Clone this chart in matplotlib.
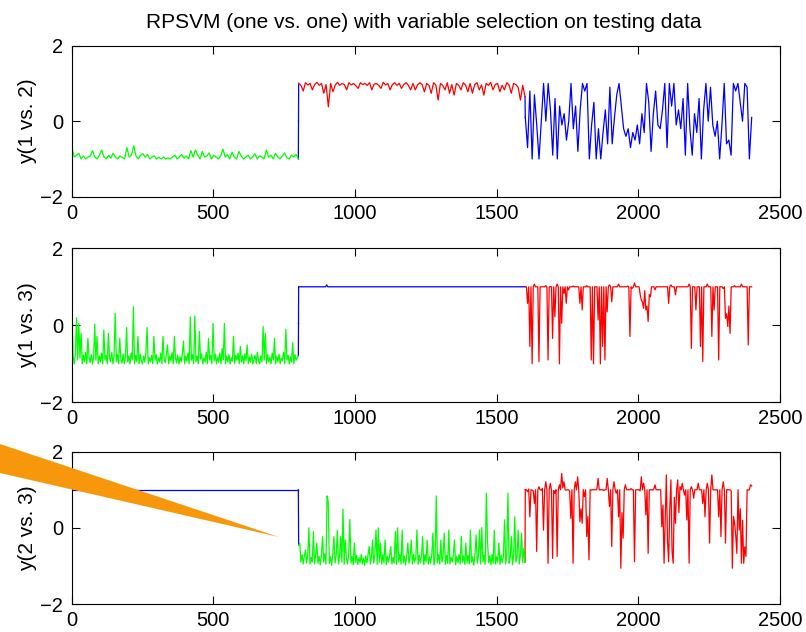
import numpy as np
import matplotlib
matplotlib.use("Agg")
import matplotlib.pyplot as plt
from matplotlib.patches import Polygon

# ---------------- data ----------------
title = "RPSVM (one vs. one) with variable selection on testing data"
ylabels = ["y(1 vs. 2)", "y(1 vs. 3)", "y(2 vs. 3)"]
xticks = [0, 500, 1000, 1500, 2000, 2500]
yticks = [-2, 0, 2]

# sample ranges of the three classes
seg_ranges = [(1, 800), (801, 1600), (1601, 2400)]

# panel 1 : y(1 vs. 2)   (~1 value per 8 samples)
p1_green = [-0.72, -0.95, -0.9, -0.85, -1.0, -0.92, -1.0, -0.95, -0.92, -0.78,
            -0.95, -1.0, -0.9, -0.76, -0.95, -1.0, -0.9, -0.98, -0.85, -0.95,
            -1.0, -0.92, -0.96, -1.0, -0.7, -0.95, -0.9, -0.65, -0.92, -1.0,
            -0.9, -0.86, -0.95, -0.88, -1.0, -0.95, -0.92, -1.0, -0.96, -1.0,
            -0.95, -1.0, -0.97, -1.0, -0.95, -0.9, -1.0, -0.95, -0.88, -0.98,
            -0.92, -1.0, -0.78, -0.95, -0.76, -0.9, -1.0, -0.8, -0.95, -0.92,
            -0.84, -1.0, -0.9, -0.95, -1.0, -0.92, -0.74, -0.95, -0.88, -1.0,
            -0.82, -0.95, -1.0, -0.8, -0.92, -1.0, -0.95, -0.9, -1.0, -0.95,
            -0.86, -1.0, -0.92, -0.95, -1.0, -0.76, -0.95, -0.9, -1.0, -0.85,
            -0.95, -1.0, -0.92, -0.84, -0.97, -1.0, -0.9, -0.95, -0.88, -1.0]
p1_red = [1.0, 0.95, 0.8, 1.02, 0.96, 1.0, 0.83, 0.97, 1.03, 0.95,
          1.0, 0.74, 0.97, 0.38, 1.0, 0.78, 0.96, 1.03, 0.95, 1.0,
          0.97, 0.83, 1.02, 0.96, 1.0, 0.94, 0.87, 1.02, 0.97, 1.0,
          0.95, 1.02, 0.83, 0.98, 1.0, 0.95, 0.87, 1.03, 0.96, 1.0,
          0.83, 0.97, 1.02, 0.95, 1.0, 0.87, 0.97, 1.02, 0.95, 0.83,
          1.0, 0.83, 0.96, 1.02, 0.97, 0.78, 1.0, 0.95, 0.74, 1.02,
          0.96, 0.56, 1.0, 0.95, 0.83, 1.02, 0.74, 0.97, 0.69, 1.0,
          0.95, 0.83, 1.02, 0.96, 0.78, 1.0, 0.74, 0.97, 1.02, 0.83,
          0.96, 0.69, 1.0, 0.95, 1.03, 0.83, 0.97, 1.0, 0.78, 0.95,
          0.83, 1.02, 0.96, 0.74, 1.0, 0.97, 0.9, 0.56, 0.95, 0.65]
p1_blue = [0.1, -0.7, 0.8, -1.0, 0.7, -0.1, -1.0, 0.0, 1.0, 0.0,
           1.0, 0.3, -0.9, 0.6, -1.0, 0.4, -0.1, 0.2, -0.5, 0.0,
           1.0, -0.2, 0.4, -0.8, 0.3, 1.0, 0.8, 1.0, -1.0, -0.1,
           0.5, -1.0, -0.2, -1.0, -0.3, 0.3, -0.6, 0.9, -0.6, 0.1,
           0.7, 1.0, 0.4, -0.2, -0.4, -0.2, -0.7, -0.3, -0.5, -0.1,
           -0.6, 0.2, -0.3, 1.0, 0.5, -0.8, 0.2, 0.8, -0.1, -0.2,
           0.3, 1.0, -0.7, 1.0, 0.4, 1.0, -0.1, 0.3, -0.2, 0.6,
           -0.9, 1.0, -0.2, -0.9, 0.2, -0.3, 0.6, -1.0, 0.3, 1.0,
           0.0, 0.9, -0.1, -0.4, 0.0, -1.0, -0.1, 1.0, -0.6, -0.5,
           -0.9, 1.0, 0.8, 1.0, 0.5, 0.0, 1.0, 0.9, -1.0, 0.1]

# panel 2 : y(1 vs. 3)   (~1 value per 4 samples)
p2_green = [0.35, -0.8, -1.0, -0.75, 0.2, -0.9, 0.05, -0.85, -0.21, -1.0,
            -0.78, -0.95, -0.7, -1.0, -0.34, -0.82, -0.97, -0.76, -1.0, -0.85,
            0.03, -0.9, -0.29, -1.0, -0.8, -0.95, -0.72, -1.0, -0.12, -0.9,
            -0.78, -1.0, -0.21, -0.85, -0.95, -0.7, -1.0, -0.8, 0.31, -0.95,
            -0.76, -1.0, -0.34, -0.88, -0.98, -0.74, -1.0, -0.83, -0.06, -0.95,
            -0.8, -1.0, -0.72, -0.9, 0.48, -1.0, -0.78, -0.95, -0.29, -1.0,
            -0.75, -0.92, -1.0, -0.8, -0.96, -0.7, -0.06, -1.0, -0.84, -0.95,
            -0.78, -1.0, -0.29, -0.9, -0.76, -1.0, -0.85, -0.95, -0.72, -1.0,
            -0.29, -0.88, -0.97, -0.75, -0.51, -1.0, -0.8, -0.93, -0.7, -1.0,
            -0.29, -0.85, -0.98, -0.77, -1.0, -0.82, -0.95, -0.74, -0.41, -1.0,
            -0.8, -0.93, -0.72, -1.0, 0.22, -0.9, -0.76, -1.0, 0.24, -0.95,
            -0.8, -1.0, -0.16, -0.88, -0.74, -1.0, -0.85, -0.95, -0.7, -1.0,
            -0.34, -0.9, -0.78, -1.0, 0.05, -0.92, -0.75, -1.0, -0.83, -0.96,
            -0.72, -1.0, -0.6, -0.9, 0.05, -1.0, -0.8, -0.95, -0.76, -1.0,
            -0.85, -0.93, -0.29, -1.0, -0.78, -0.9, -0.72, -1.0, -0.55, -0.95,
            -0.8, -1.0, -0.74, -0.92, -0.51, -1.0, -0.82, -0.96, -0.75, -1.0,
            -0.88, -0.78, -1.0, -0.7, -0.93, -1.0, -0.8, -0.95, -0.03, -0.9,
            -0.21, -1.0, -0.76, -0.95, -0.84, -1.0, -0.72, -0.9, -0.34, -1.0,
            -0.8, -0.95, -0.75, -1.0, -0.86, -0.92, -0.7, -1.0, -0.1, -0.9,
            -0.78, -1.0, -0.82, -0.95, -0.45, -1.0, -0.76, -0.9, -0.85, -0.8]
p2_blue_x = [801, 896, 900, 904, 1600]
p2_blue_y = [1.0, 1.0, 1.05, 1.0, 1.0]
p2_red = [1.0, 1.0, 0.57, 1.0, -0.55, 1.0, -1.0, 1.0, 1.07, 1.0,
          1.0, 1.0, -0.94, 1.0, 1.0, 1.0, 1.0, 1.0, 1.03, 1.0,
          -0.9, 1.0, 1.0, 1.0, -0.34, 1.0, 0.22, 1.0, 1.07, 1.0,
          -1.0, 1.0, 0.05, 1.0, 0.83, 1.0, 0.57, 1.0, 0.92, 1.0,
          1.0, 1.0, 1.02, 1.0, 1.0, 1.0, 1.0, 1.0, 0.57, 1.0,
          0.4, 1.0, 1.0, 1.0, 1.03, 1.0, 1.0, 1.0, -0.9, 1.0,
          -1.0, 1.0, 1.0, 1.0, 0.14, 1.0, -1.0, 1.0, -0.55, 1.0,
          -0.9, 1.0, 0.35, 1.0, 1.05, 1.0, 0.61, 1.0, 1.0, 1.0,
          1.0, 1.0, 1.07, 1.0, 1.0, 1.0, 1.0, 1.0, 1.0, 1.0,
          1.02, 1.0, -0.29, 1.0, 0.96, 1.0, 1.1, 1.0, 1.0, 1.0,
          1.0, 0.8, 0.66, 0.6, 0.44, 0.9, 0.4, 0.5, 0.1, 0.8,
          0.74, 1.0, 1.0, 1.0, 0.92, 1.0, 1.0, 1.0, 1.0, 1.0,
          1.0, 1.0, 1.0, 1.0, 1.0, 1.0, 0.57, 1.0, 1.05, 1.0,
          1.0, 1.0, 0.79, 1.0, 1.0, 1.0, 1.0, 1.0, 1.0, 1.0,
          1.0, 1.0, 1.0, 1.0, 1.07, 1.0, -0.6, 1.0, 1.0, 1.0,
          0.4, 1.0, 1.0, 1.0, -0.55, 1.0, -0.94, 1.0, 1.0, 1.0,
          1.07, 1.0, 1.0, 1.0, -0.29, 1.0, 0.4, 1.0, 1.0, 1.0,
          -0.9, 1.0, 1.0, 1.0, 0.95, 1.0, 0.18, 0.3, -0.03, 0.5,
          -0.21, 1.0, 1.0, 1.0, 1.03, 1.0, 1.0, 1.0, 1.0, 1.0,
          1.07, 1.0, 1.0, 1.0, 1.0, 1.0, -0.51, 1.0, 1.0, 1.0]

# panel 3 : y(2 vs. 3)   (~1 value per 4 samples)
p3_blue_x = [1, 800]
p3_blue_y = [1.0, 1.0]
p3_green = [-0.45, -0.4, -0.9, -0.7, -0.95, -0.75, -0.58, -0.92, -0.72, 0.0,
            -0.95, -0.78, -0.9, -0.1, -0.95, -0.7, -0.4, -0.93, -0.75, -0.97,
            -0.72, -0.23, -0.9, -0.68, -0.95, 0.84, 0.69, -0.93, -0.76, -0.98,
            -0.7, -0.23, -0.92, -0.74, -0.06, -0.95, -0.72, -0.23, -0.9, 0.49,
            -0.96, -0.32, -0.8, -0.95, -0.7, 0.22, -0.93, -0.75, -0.97, -0.4,
            -0.9, -0.72, -0.96, -0.78, -0.92, -0.7, -0.95, -0.8, -0.98, -0.74,
            -0.92, -0.7, -0.49, -0.95, -0.76, -0.32, -0.93, -0.72, -0.06, -0.96,
            0.0, -0.9, -0.4, -0.95, -0.7, -0.92, -0.32, -0.97, -0.75, -0.9,
            -0.72, -0.49, -0.95, -0.78, -0.93, -0.1, -0.96, 0.0, -0.9, -0.7,
            -0.95, -0.06, -0.92, -0.74, -0.98, -0.72, -0.4, -0.93, -0.76, -0.32,
            -0.95, -0.7, -0.9, -0.78, -0.06, -0.96, -0.72, -0.92, -0.75, -0.23,
            -0.97, -0.7, -0.9, -0.32, -0.95, -0.76, -0.93, -0.72, -0.14, -0.98,
            -0.75, 0.84, -0.92, -0.7, -0.95, -0.32, -0.9, -0.74, -0.14, -0.96,
            -0.72, -0.93, -0.06, -0.95, -0.78, -0.9, -0.7, -0.32, -0.97, -0.75,
            -0.92, -0.7, -0.95, -0.23, -0.9, -0.74, -0.96, -0.4, -0.93, -0.72,
            -0.95, -0.06, -0.9, -0.76, -0.98, -0.7, -0.19, -0.93, -0.75, -0.06,
            -0.95, 0.01, -0.9, -0.72, -0.96, 0.91, -0.32, -0.92, -0.74, -0.97,
            -0.7, -0.93, -0.06, -0.95, -0.76, -0.9, -0.4, -0.96, -0.72, -0.92,
            -0.75, 0.21, -0.95, -0.7, 0.91, -0.93, -0.78, -0.23, -0.97, -0.72,
            0.29, -0.9, -0.75, -0.06, -0.95, -0.7, -0.14, -0.92, -0.54, -0.9]
p3_red = [1.0, 1.0, 0.95, 1.02, 0.29, 1.0, 0.99, 0.97, 0.64, 1.0,
          -0.62, 1.0, 1.08, 1.0, 0.99, 1.03, -0.06, 1.0, 1.21, 1.0,
          -0.93, 1.0, 1.17, 1.0, -0.8, 0.98, 0.91, 1.0, -0.75, 1.0,
          1.13, 1.0, 1.43, 1.05, 1.21, 1.0, 0.99, 1.0, 1.0, 0.97,
          0.25, 1.0, -0.93, 1.0, 1.21, 1.0, 1.34, 1.0, 0.16, 0.5,
          0.12, 1.0, 0.82, 1.0, -0.23, 0.3, -0.84, 1.0, 0.99, 1.0,
          1.0, 1.0, 1.0, 1.02, 1.3, 1.0, 1.0, 1.0, 1.0, 0.98,
          1.0, 1.0, 1.3, 1.0, 0.56, 1.0, -0.49, 1.0, 1.21, 1.0,
          0.91, 1.0, 0.29, 1.0, -1.06, 0.4, -0.27, 1.0, 1.13, 1.0,
          1.0, 1.0, 1.0, 1.03, 1.0, 1.0, -0.89, 1.0, 1.0, 1.0,
          1.0, 0.97, 1.34, 1.0, 1.17, 1.0, 0.34, 1.0, -0.67, 1.0,
          1.0, 1.0, 0.99, 1.02, 1.13, 1.0, 1.0, 1.0, 1.0, 1.0,
          0.03, 0.6, -0.93, 0.2, 1.39, -0.32, -0.89, 0.5, 1.26, -0.6,
          -0.93, 0.8, 0.12, 1.0, 1.26, 0.4, 1.08, 1.0, 1.17, 1.0,
          0.86, 1.0, 0.21, 1.0, -0.93, 1.0, 1.08, 1.0, 0.78, 1.0,
          1.0, 1.0, 1.17, 1.0, 1.0, 1.0, 0.64, 1.0, 0.29, 1.0,
          1.17, 1.0, -0.4, 1.0, 1.39, 1.0, 1.0, 1.0, 0.99, 1.0,
          0.29, 1.0, -0.23, 1.0, 1.21, 1.0, -0.4, 1.0, 1.0, 1.0,
          1.0, 0.97, -1.06, 0.3, 0.12, -0.2, -0.67, 1.0, -0.06, 0.5,
          -0.93, 0.2, -0.93, -0.5, -0.75, 1.0, 0.99, 1.0, 1.13, 1.1]

GREEN, RED, BLUE = "#00FF00", "#FF0000", "#0000FF"
ORANGE = "#F7980C"

plt.rcParams['font.family'] = ['Liberation Sans', 'DejaVu Sans']

W, H = 806, 632
fig = plt.figure(figsize=(W / 100, H / 100), dpi=100)

# axes boxes in pixels: (top, bottom)
boxes = [(45.7, 196.7), (248.3, 402.3), (451.7, 604.0)]
x_left, x_right = 71.7, 780.0

def seg_x(k, vals):
    a, b = seg_ranges[k]
    return np.linspace(a, b, len(vals))

LW = 0.9

def draw_seg(ax, x, y, color):
    ax.plot(x, y, color=color, lw=LW)

def connector(ax, x0, y0, x1, y1, color):
    ax.plot([x0, x1], [y0, y1], color=color, lw=LW)

axes = []
for i, (top, bot) in enumerate(boxes):
    ax = fig.add_axes([x_left / W, 1 - bot / H, (x_right - x_left) / W, (bot - top) / H])
    axes.append(ax)

# panel 1
ax = axes[0]
g, r, b = p1_green, p1_red, p1_blue
connector(ax, 800, g[-1], 800.5, 0.0, BLUE)
connector(ax, 800.5, 0.0, 801, r[0], BLUE)
connector(ax, 1600, r[-1], 1601, b[0], BLUE)
draw_seg(ax, seg_x(0, g), g, GREEN)
draw_seg(ax, seg_x(1, r), r, RED)
draw_seg(ax, seg_x(2, b), b, BLUE)

# panel 2
ax = axes[1]
g, r = p2_green, p2_red
connector(ax, 800, g[-1], 800.5, 0.05, BLUE)
connector(ax, 800.5, 0.05, 801, p2_blue_y[0], BLUE)
ax.plot(p2_blue_x, p2_blue_y, color=BLUE, lw=LW)
connector(ax, 1600, p2_blue_y[-1], 1601, r[0], RED)
draw_seg(ax, seg_x(0, g), g, GREEN)
draw_seg(ax, seg_x(2, r), r, RED)

# panel 3
ax = axes[2]
g, r = p3_green, p3_red
ax.plot(p3_blue_x, p3_blue_y, color=BLUE, lw=LW)
connector(ax, 800, p3_blue_y[-1], 801, g[0], BLUE)
connector(ax, 1600, g[-1], 1601, r[0], RED)
draw_seg(ax, seg_x(1, g), g, GREEN)
draw_seg(ax, seg_x(2, r), r, RED)

for ax, lab in zip(axes, ylabels):
    ax.set_xlim(xticks[0], xticks[-1])
    ax.set_ylim(yticks[0], yticks[-1])
    ax.set_xticks(xticks)
    ax.set_yticks(yticks)
    ax.tick_params(direction='in', length=5.5, width=0.8, top=True, right=True,
                   labelsize=14.5, colors='black')
    ax.tick_params(axis='x', pad=5)
    ax.tick_params(axis='y', pad=6)
    for sp in ax.spines.values():
        sp.set_linewidth(0.8)
        sp.set_color('black')
    ax.set_ylabel(lab, fontsize=15, va='center')
    ax.yaxis.set_label_coords((28 - x_left) / (x_right - x_left), 0.5)

fig.text(424 / W, 1 - 22 / H, title, ha='center', va='center', fontsize=15)

# orange callout wedge overlapping the third panel
fig.add_artist(Polygon([(0, 1 - 444 / H), (0, 1 - 473 / H), (279 / W, 1 - 537 / H)],
                       closed=True, transform=fig.transFigure,
                       facecolor=ORANGE, edgecolor='none', zorder=5))

fig.savefig("out.png", dpi=100)
